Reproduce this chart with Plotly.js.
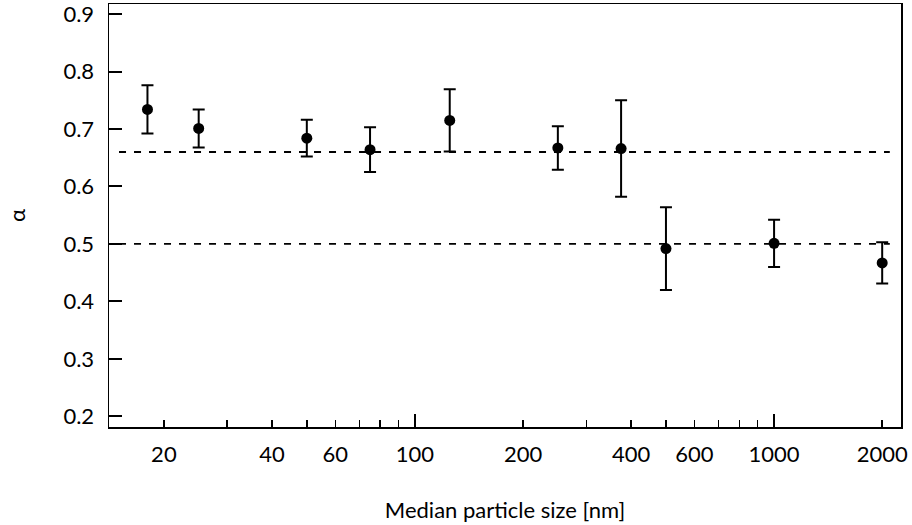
<!DOCTYPE html>
<html>
<head>
<meta charset="utf-8">
<script src="https://cdn.plot.ly/plotly-3.0.1.min.js"></script>
<style>html,body{margin:0;padding:0;background:#fff;}#chart{width:912px;height:525px;}</style>
</head>
<body>
<div id="chart"></div>
<script>
// Data
const particleSize = [18, 25, 50, 75, 125, 250, 375, 500, 1000, 2000];
const alphaValues  = [0.734, 0.701, 0.684, 0.664, 0.715, 0.667, 0.666, 0.492, 0.501, 0.467];
const alphaErrors  = [0.042, 0.033, 0.032, 0.039, 0.054, 0.038, 0.084, 0.072, 0.041, 0.036];
const refLineX     = [15, 2100];
const refUpper     = [0.66, 0.66];
const refLower     = [0.5, 0.5];
const xTickVals    = [20, 30, 40, 50, 60, 70, 80, 90, 100, 200, 300, 400, 500, 600, 700, 800, 900, 1000, 2000];
const xTickText    = ['20', '', '40', '', '60', '', '', '', '100', '200', '', '400', '', '600', '', '', '', '1000', '2000'];
const xLongTicks   = [100, 1000];
const yTickVals    = [0.2, 0.3, 0.4, 0.5, 0.6, 0.7, 0.8, 0.9];
const yTickText    = ['0.2', '0.3', '0.4', '0.5', '0.6', '0.7', '0.8', '0.9'];

const FONT = 'Lato, "Open Sans", sans-serif';
const FS = 22;
const xRange = [1.1482, 3.3534];

const traces = [
  {x: refLineX, y: refUpper, mode: 'lines', line: {color: '#000', width: 1.8, dash: '7px,8px'}, hoverinfo: 'skip', showlegend: false},
  {x: refLineX, y: refLower, mode: 'lines', line: {color: '#000', width: 1.8, dash: '7px,8px'}, hoverinfo: 'skip', showlegend: false},
  {
    x: particleSize, y: alphaValues, mode: 'markers', type: 'scatter',
    marker: {color: '#000', size: 11},
    error_y: {type: 'data', array: alphaErrors, visible: true, color: '#000', thickness: 2, width: 6},
    showlegend: false
  },
  {x: particleSize, y: alphaValues, xaxis: 'x2', mode: 'markers', marker: {opacity: 0}, hoverinfo: 'skip', showlegend: false}
];

const layout = {
  width: 912, height: 525,
  margin: {l: 109, r: 11, t: 4, b: 98},
  paper_bgcolor: '#fff', plot_bgcolor: '#fff',
  font: {family: FONT, size: FS, color: '#000'},
  showlegend: false,
  xaxis: {
    type: 'log', range: xRange,
    tickmode: 'array', tickvals: xTickVals, ticktext: xTickText,
    ticks: 'inside', ticklen: 7, tickwidth: 1.5, tickcolor: '#000',
    ticklabelstandoff: 7, ticklabeloverflow: 'allow',
    showline: true, linecolor: '#000', linewidth: 1.5, mirror: true,
    showgrid: false, zeroline: false,
    tickfont: {family: FONT, size: FS, color: '#000'},
    title: {text: 'Median particle size [nm]', font: {family: FONT, size: FS, color: '#000'}, standoff: 36}
  },
  xaxis2: {
    type: 'log', range: xRange, overlaying: 'x', anchor: 'y', side: 'bottom',
    tickmode: 'array', tickvals: xLongTicks, showticklabels: false,
    ticks: 'inside', ticklen: 13, tickwidth: 1.5, tickcolor: '#000',
    showline: false, showgrid: false, zeroline: false
  },
  yaxis: {
    range: [0.1815, 0.9175],
    tickmode: 'array', tickvals: yTickVals, ticktext: yTickText,
    ticks: 'inside', ticklen: 13, tickwidth: 2, tickcolor: '#000',
    ticklabelstandoff: 9, ticklabeloverflow: 'allow',
    showline: true, linecolor: '#000', linewidth: 1.5, mirror: true,
    showgrid: false, zeroline: false,
    tickfont: {family: FONT, size: FS, color: '#000'},
    title: {text: 'α', font: {family: FONT, size: FS, color: '#000'}, standoff: 31}
  }
};

Plotly.newPlot('chart', traces, layout, {displayModeBar: false, staticPlot: true});
</script>
</body>
</html>
